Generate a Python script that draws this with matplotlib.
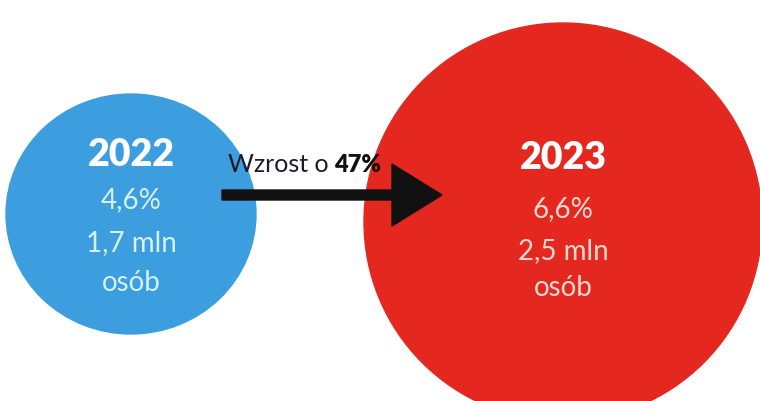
import matplotlib.pyplot as plt
from matplotlib.patches import Ellipse, FancyArrow

# Dane
years = ["2022", "2023"]
shares = [4.6, 6.6]          # % osób
people_mln = [1.7, 2.5]      # mln osób
growth = 47                  # wzrost w %

# Wygląd
plt.rcParams['font.family'] = ['Lato', 'DejaVu Sans']
fill_colors = ["#3c9ddf", "#e5281f"]
text_colors = ["#d6f1f4", "#f7d9d2"]
centers = [(131, 214), (563, 222)]
sizes = [(250, 240), (398, 398)]
text_x = [131, 563]
text_y = [[155, 200, 243, 283], [158, 209, 251, 288]]

fig = plt.figure(figsize=(7.6, 4.01), dpi=100)
ax = fig.add_axes([0, 0, 1, 1])
ax.set_xlim(0, 760)
ax.set_ylim(401, 0)
ax.axis('off')

def fmt(v):
    return f"{v:.1f}".replace(".", ",")

for i in range(len(years)):
    ax.add_patch(Ellipse(centers[i], sizes[i][0], sizes[i][1],
                         color=fill_colors[i], zorder=1))
    ys = text_y[i]
    ax.text(text_x[i], ys[0], years[i], ha='center', va='center',
            color='white', fontsize=27, fontweight='heavy', zorder=3)
    ax.text(text_x[i], ys[1], fmt(shares[i]) + "%", ha='center', va='center',
            color=text_colors[i], fontsize=20, zorder=3)
    ax.text(text_x[i], ys[2], fmt(people_mln[i]) + " mln", ha='center',
            va='center', color=text_colors[i], fontsize=20, zorder=3)
    ax.text(text_x[i], ys[3], "osób", ha='center', va='center',
            color=text_colors[i], fontsize=20, zorder=3)

# Strzałka
ax.add_patch(FancyArrow(222, 195, 170, 0, width=10, head_width=62,
                        head_length=50, color='#111111', zorder=4))

label = ax.text(228, 165, "Wzrost o", ha='left', va='center', color='#1b1b2a',
                fontsize=18, zorder=5)
ax.annotate(f"{growth}%", xy=(1, 0.5), xycoords=label, xytext=(4, 0),
            textcoords='offset points', ha='left', va='center',
            color='#111111', fontsize=17, fontweight='heavy', zorder=5)

fig.savefig("out.png", dpi=100)
